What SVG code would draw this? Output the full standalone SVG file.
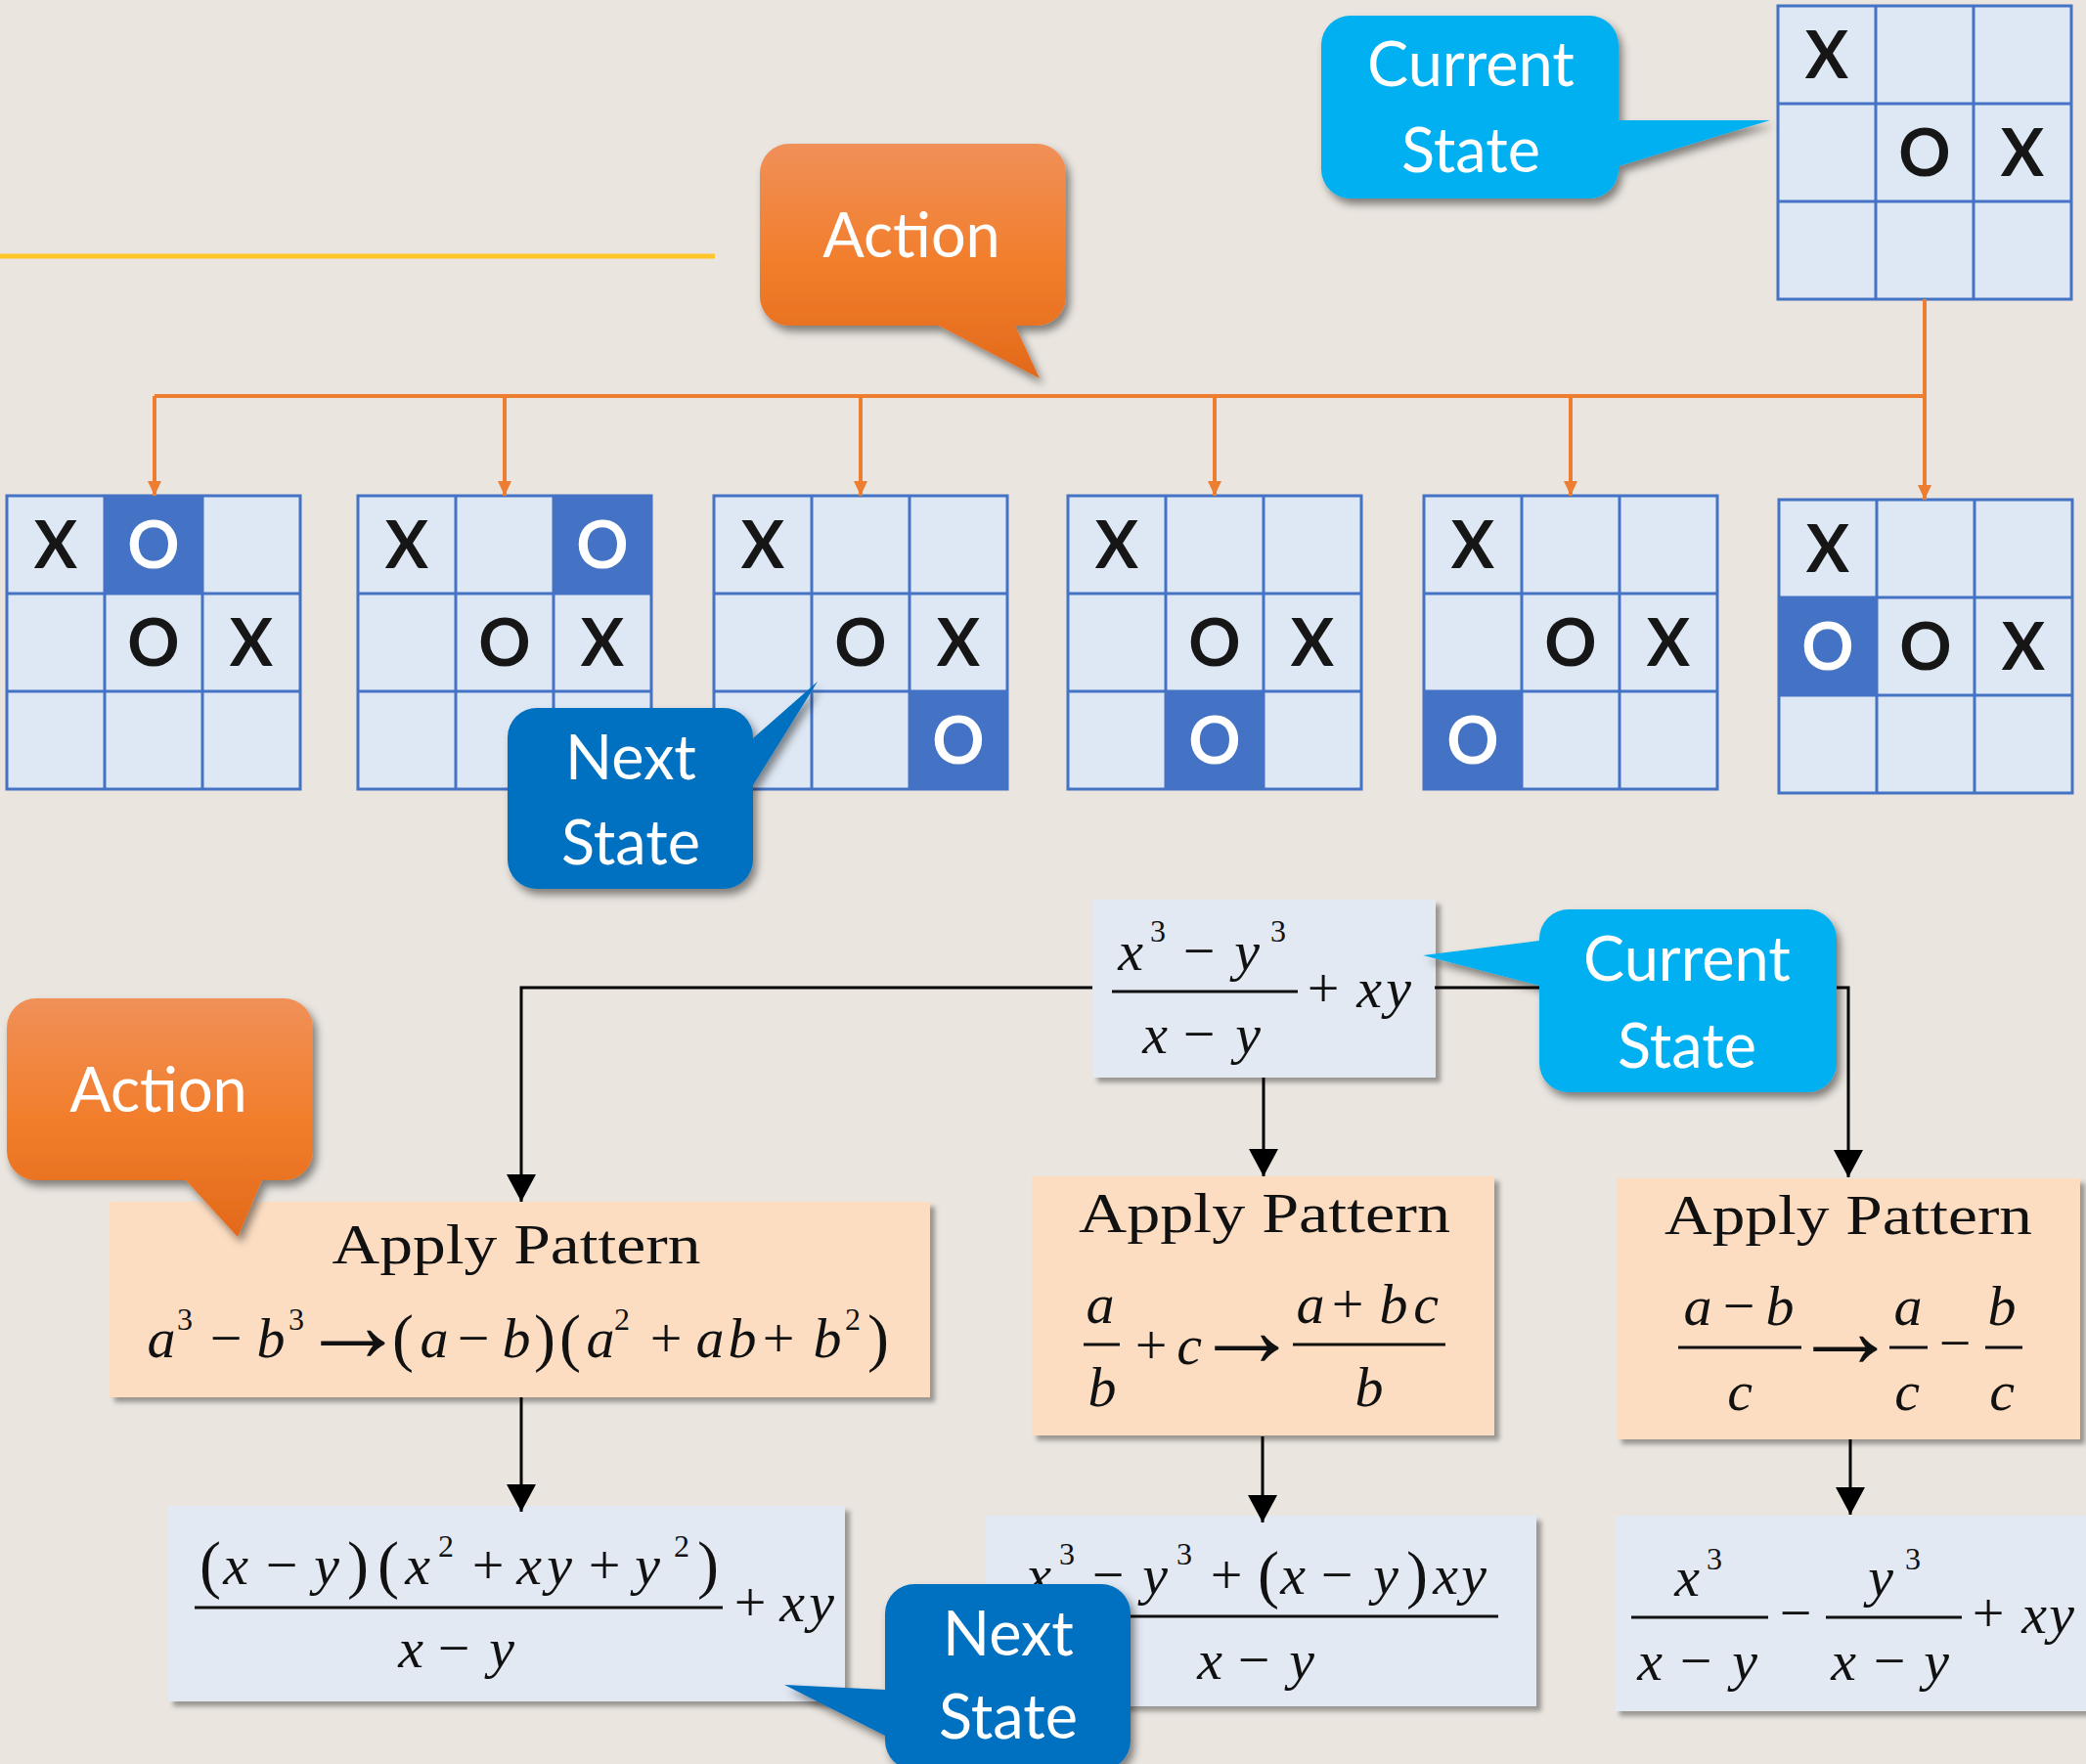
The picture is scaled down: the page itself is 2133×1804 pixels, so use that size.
<svg xmlns="http://www.w3.org/2000/svg" xmlns:xlink="http://www.w3.org/1999/xlink" width="2133" height="1804" viewBox="0 0 2133 1804">
<style>
  .bf { fill: #DEE8F4; }
  .hl { fill: #4472C4; }
  .xo { font-family: Lato, "Open Sans", sans-serif; font-weight: 700; font-size: 66px; fill: #161616; text-anchor: middle; }
  .xo .w, .w { fill: #FFFFFF; }
  .cl { font-family: Lato, "Open Sans", sans-serif; font-size: 63px; fill: #FFFFFF; text-anchor: middle; }
  .hd { font-family: "Liberation Serif", serif; font-size: 58px; fill: #111111; text-anchor: middle; }
  .mi { font-family: "Liberation Serif", serif; font-style: italic; font-size: 58px; fill: #111111; text-anchor: middle; }
  .mo { font-family: "Liberation Serif", serif; font-size: 58px; fill: #111111; text-anchor: middle; }
  .ma { font-family: "Liberation Serif", serif; font-size: 110px; fill: #111111; text-anchor: middle; }
  .mp { font-family: "Liberation Serif", serif; font-size: 66px; fill: #111111; text-anchor: middle; }
  .sp { font-family: "Liberation Serif", serif; font-size: 32px; fill: #111111; text-anchor: middle; }
  .bar { stroke: #111111; stroke-width: 3; }
  .state { fill: #E2E9F3; }
  .pat { fill: #FCDDC2; }
  .conn { fill: none; stroke: #000000; stroke-width: 3; }
  .oconn { fill: none; stroke: #ED7D31; stroke-width: 4; }
</style>
<defs>
  <path id="grid" d="M0 0H300V300H0Z M100 0V300 M200 0V300 M0 100H300 M0 200H300" fill="none" stroke="#4472C4" stroke-width="3"/>
  <marker id="ah" viewBox="0 0 28 30" refX="28" refY="15" markerWidth="28" markerHeight="30" markerUnits="userSpaceOnUse" orient="auto">
    <path d="M0 0L28 15L0 30Z" fill="#000000"/>
  </marker>
  <marker id="oah" viewBox="0 0 15 14" refX="15" refY="7" markerWidth="15" markerHeight="14" markerUnits="userSpaceOnUse" orient="auto">
    <path d="M0 0L15 7L0 14Z" fill="#ED7D31"/>
  </marker>
  <linearGradient id="og" x1="0" y1="0" x2="0" y2="1">
    <stop offset="0" stop-color="#F09058"/>
    <stop offset="0.5" stop-color="#F27E2C"/>
    <stop offset="1" stop-color="#E2691A"/>
  </linearGradient>
  <filter id="csh" x="-10%" y="-10%" width="130%" height="140%">
    <feDropShadow dx="4" dy="6" stdDeviation="4" flood-color="#000000" flood-opacity="0.45"/>
  </filter>
  <filter id="bsh" x="-5%" y="-5%" width="115%" height="120%">
    <feDropShadow dx="5" dy="5" stdDeviation="2.5" flood-color="#000000" flood-opacity="0.35"/>
  </filter>
</defs>

<rect width="2133" height="1804" fill="#EAE5DF"/>

<!-- yellow rule on the left -->
<line x1="0" y1="262" x2="731" y2="262" stroke="#FFC62A" stroke-width="5"/>

<!-- ===== tic-tac-toe tree ===== -->
<g id="board-current" transform="translate(1818,6)">
  <rect class="bf" width="300" height="300"/>
  <use xlink:href="#grid"/>
  <text class="xo"><tspan x="50" y="74">X</tspan><tspan x="150" y="174">O</tspan><tspan x="250" y="174">X</tspan></text>
</g>

<g id="board-1" transform="translate(7,507)">
  <rect class="bf" width="300" height="300"/>
  <rect class="hl" x="100" y="0" width="100" height="100"/>
  <use xlink:href="#grid"/>
  <text class="xo"><tspan x="50" y="74">X</tspan><tspan x="150" y="174">O</tspan><tspan x="250" y="174">X</tspan></text>
  <text class="xo w" x="150" y="74">O</text>
</g>

<g id="board-2" transform="translate(366,507)">
  <rect class="bf" width="300" height="300"/>
  <rect class="hl" x="200" y="0" width="100" height="100"/>
  <use xlink:href="#grid"/>
  <text class="xo"><tspan x="50" y="74">X</tspan><tspan x="150" y="174">O</tspan><tspan x="250" y="174">X</tspan></text>
  <text class="xo w" x="250" y="74">O</text>
</g>

<g id="board-3" transform="translate(730,507)">
  <rect class="bf" width="300" height="300"/>
  <rect class="hl" x="200" y="200" width="100" height="100"/>
  <use xlink:href="#grid"/>
  <text class="xo"><tspan x="50" y="74">X</tspan><tspan x="150" y="174">O</tspan><tspan x="250" y="174">X</tspan></text>
  <text class="xo w" x="250" y="274">O</text>
</g>

<g id="board-4" transform="translate(1092,507)">
  <rect class="bf" width="300" height="300"/>
  <rect class="hl" x="100" y="200" width="100" height="100"/>
  <use xlink:href="#grid"/>
  <text class="xo"><tspan x="50" y="74">X</tspan><tspan x="150" y="174">O</tspan><tspan x="250" y="174">X</tspan></text>
  <text class="xo w" x="150" y="274">O</text>
</g>

<g id="board-5" transform="translate(1456,507)">
  <rect class="bf" width="300" height="300"/>
  <rect class="hl" x="0" y="200" width="100" height="100"/>
  <use xlink:href="#grid"/>
  <text class="xo"><tspan x="50" y="74">X</tspan><tspan x="150" y="174">O</tspan><tspan x="250" y="174">X</tspan></text>
  <text class="xo w" x="50" y="274">O</text>
</g>

<g id="board-6" transform="translate(1819,511)">
  <rect class="bf" width="300" height="300"/>
  <rect class="hl" x="0" y="100" width="100" height="100"/>
  <use xlink:href="#grid"/>
  <text class="xo"><tspan x="50" y="74">X</tspan><tspan x="150" y="174">O</tspan><tspan x="250" y="174">X</tspan></text>
  <text class="xo w" x="50" y="174">O</text>
</g>

<g id="tree-connectors">
  <path class="oconn" d="M1968 306V405 M158 405H1968"/>
  <path class="oconn" marker-end="url(#oah)" d="M158 405V507"/>
  <path class="oconn" marker-end="url(#oah)" d="M516 405V507"/>
  <path class="oconn" marker-end="url(#oah)" d="M880 405V507"/>
  <path class="oconn" marker-end="url(#oah)" d="M1242 405V507"/>
  <path class="oconn" marker-end="url(#oah)" d="M1606 405V507"/>
  <path class="oconn" marker-end="url(#oah)" d="M1968 405V511"/>
</g>

<g id="callout-current-top" filter="url(#csh)">
  <path fill="#00B0F0" d="M1381 16H1625A30 30 0 0 1 1655 46V123L1810 123L1655 170V173A30 30 0 0 1 1625 203H1381A30 30 0 0 1 1351 173V46A30 30 0 0 1 1381 16Z"/>
  <text class="cl"><tspan x="1504" y="88">Current</tspan><tspan x="1504" y="176">State</tspan></text>
</g>

<g id="callout-action-top" filter="url(#csh)">
  <path fill="url(#og)" d="M807 147H1060A30 30 0 0 1 1090 177V303A30 30 0 0 1 1060 333H1038L1063 387L960 333H807A30 30 0 0 1 777 303V177A30 30 0 0 1 807 147Z"/>
  <text class="cl" x="932" y="263">Action</text>
</g>

<g id="callout-next-top" filter="url(#csh)">
  <path fill="#0070C0" d="M549 724H740A30 30 0 0 1 770 754V755L836 697L770 803V879A30 30 0 0 1 740 909H549A30 30 0 0 1 519 879V754A30 30 0 0 1 549 724Z"/>
  <text class="cl"><tspan x="645" y="797">Next</tspan><tspan x="645" y="884">State</tspan></text>
</g>

<!-- ===== algebra tree ===== -->
<g id="expr-current">
  <rect class="state" x="1117" y="920" width="351" height="182" filter="url(#bsh)"/>
  <text class="mi" y="992"><tspan x="1156">x</tspan><tspan x="1275">y</tspan></text>
  <text class="sp" y="963"><tspan x="1184">3</tspan><tspan x="1307">3</tspan></text>
  <text class="mo" x="1226" y="992">−</text>
  <line class="bar" x1="1137" y1="1014" x2="1327" y2="1014"/>
  <text class="mi" y="1077"><tspan x="1181">x</tspan><tspan x="1276">y</tspan></text>
  <text class="mo" x="1226" y="1077">−</text>
  <text class="mo" x="1353" y="1030">+</text>
  <text class="mi" y="1030"><tspan x="1400">x</tspan><tspan x="1430">y</tspan></text>
</g>

<g id="pattern-cubes">
  <rect class="pat" x="112" y="1229" width="839" height="200" filter="url(#bsh)"/>
  <text class="hd" x="528" y="1292" textLength="377" lengthAdjust="spacingAndGlyphs">Apply Pattern</text>
  <text class="mi" y="1388"><tspan x="165">a</tspan><tspan x="277">b</tspan><tspan x="444">a</tspan><tspan x="528">b</tspan><tspan x="614">a</tspan><tspan x="726">a</tspan><tspan x="759">b</tspan><tspan x="846">b</tspan></text>
  <text class="sp" y="1360"><tspan x="189">3</tspan><tspan x="303">3</tspan><tspan x="636">2</tspan><tspan x="872">2</tspan></text>
  <text class="mo" y="1388"><tspan x="231">−</tspan><tspan x="484">−</tspan><tspan x="681">+</tspan><tspan x="796">+</tspan></text>
  <text class="ma" x="361" y="1392">→</text>
  <text class="mp" y="1390"><tspan x="412">(</tspan><tspan x="557">)</tspan><tspan x="583">(</tspan><tspan x="898">)</tspan></text>
</g>

<g id="pattern-fraction-sum">
  <rect class="pat" x="1055" y="1203" width="473" height="265" filter="url(#bsh)"/>
  <text class="hd" x="1293" y="1260" textLength="380" lengthAdjust="spacingAndGlyphs">Apply Pattern</text>
  <text class="mi" y="1353"><tspan x="1125">a</tspan><tspan x="1340">a</tspan><tspan x="1425">b</tspan><tspan x="1458">c</tspan></text>
  <text class="mo" x="1378" y="1353">+</text>
  <line class="bar" x1="1108" y1="1375" x2="1145" y2="1375"/>
  <line class="bar" x1="1322" y1="1375" x2="1478" y2="1375"/>
  <text class="mi" y="1438"><tspan x="1127">b</tspan><tspan x="1400">b</tspan></text>
  <text class="mo" x="1177" y="1395">+</text>
  <text class="ma" x="1275" y="1397">→</text>
  <text class="mi" x="1216" y="1395">c</text>
</g>

<g id="pattern-fraction-split">
  <rect class="pat" x="1653" y="1205" width="474" height="267" filter="url(#bsh)"/>
  <text class="hd" x="1890" y="1262" textLength="376" lengthAdjust="spacingAndGlyphs">Apply Pattern</text>
  <text class="mi" y="1355"><tspan x="1736">a</tspan><tspan x="1820">b</tspan><tspan x="1951">a</tspan><tspan x="2047">b</tspan></text>
  <text class="mo" x="1778" y="1355">−</text>
  <line class="bar" x1="1716" y1="1378" x2="1842" y2="1378"/>
  <line class="bar" x1="1932" y1="1378" x2="1971" y2="1378"/>
  <line class="bar" x1="2030" y1="1378" x2="2068" y2="1378"/>
  <text class="mi" y="1442"><tspan x="1779">c</tspan><tspan x="1950">c</tspan><tspan x="2047">c</tspan></text>
  <text class="ma" x="1887" y="1398">→</text>
  <text class="mo" x="1999" y="1393">−</text>
</g>

<g id="expr-factored">
  <rect class="state" x="172" y="1540" width="692" height="200" filter="url(#bsh)"/>
  <text class="mp" y="1622"><tspan x="215">(</tspan><tspan x="366">)</tspan><tspan x="397">(</tspan><tspan x="724">)</tspan></text>
  <text class="mi" y="1620"><tspan x="241">x</tspan><tspan x="334">y</tspan><tspan x="427">x</tspan><tspan x="541">x</tspan><tspan x="572">y</tspan><tspan x="662">y</tspan></text>
  <text class="mo" y="1620"><tspan x="288">−</tspan><tspan x="499">+</tspan><tspan x="618">+</tspan></text>
  <text class="sp" y="1592"><tspan x="456">2</tspan><tspan x="697">2</tspan></text>
  <line class="bar" x1="199" y1="1644" x2="739" y2="1644"/>
  <text class="mi" y="1705"><tspan x="420">x</tspan><tspan x="513">y</tspan></text>
  <text class="mo" x="464" y="1705">−</text>
  <text class="mo" x="767" y="1658">+</text>
  <text class="mi" y="1658"><tspan x="810">x</tspan><tspan x="840">y</tspan></text>
</g>

<g id="expr-combined">
  <rect class="state" x="1008" y="1550" width="563" height="195" filter="url(#bsh)"/>
  <text class="mi" y="1630"><tspan x="1062">x</tspan><tspan x="1181">y</tspan><tspan x="1322">x</tspan><tspan x="1417">y</tspan><tspan x="1478">x</tspan><tspan x="1507">y</tspan></text>
  <text class="sp" y="1600"><tspan x="1091">3</tspan><tspan x="1211">3</tspan></text>
  <text class="mo" y="1630"><tspan x="1133">−</tspan><tspan x="1254">+</tspan><tspan x="1367">−</tspan></text>
  <text class="mp" y="1632"><tspan x="1297">(</tspan><tspan x="1449">)</tspan></text>
  <line class="bar" x1="1050" y1="1653" x2="1532" y2="1653"/>
  <text class="mi" y="1717"><tspan x="1237">x</tspan><tspan x="1331">y</tspan></text>
  <text class="mo" x="1282" y="1717">−</text>
</g>

<g id="expr-split">
  <rect class="state" x="1651" y="1550" width="490" height="200" filter="url(#bsh)"/>
  <text class="mi" y="1632"><tspan x="1725">x</tspan><tspan x="1923">y</tspan></text>
  <text class="sp" y="1605"><tspan x="1753">3</tspan><tspan x="1956">3</tspan></text>
  <line class="bar" x1="1668" y1="1654" x2="1808" y2="1654"/>
  <line class="bar" x1="1867" y1="1654" x2="2006" y2="1654"/>
  <text class="mi" y="1718"><tspan x="1687">x</tspan><tspan x="1784">y</tspan><tspan x="1885">x</tspan><tspan x="1980">y</tspan></text>
  <text class="mo" y="1718"><tspan x="1734">−</tspan><tspan x="1932">−</tspan></text>
  <text class="mo" y="1669"><tspan x="1836">−</tspan><tspan x="2033">+</tspan></text>
  <text class="mi" y="1670"><tspan x="2080">x</tspan><tspan x="2108">y</tspan></text>
</g>

<g id="algebra-connectors">
  <path class="conn" marker-end="url(#ah)" d="M1117 1010H533V1229"/>
  <path class="conn" marker-end="url(#ah)" d="M1467 1010H1890V1204"/>
  <path class="conn" marker-end="url(#ah)" d="M1292 1102V1203"/>
  <path class="conn" marker-end="url(#ah)" d="M533 1429V1546"/>
  <path class="conn" marker-end="url(#ah)" d="M1291 1469V1557"/>
  <path class="conn" marker-end="url(#ah)" d="M1892 1472V1549"/>
</g>

<g id="callout-action-bottom" filter="url(#csh)">
  <path fill="url(#og)" d="M37 1021H290A30 30 0 0 1 320 1051V1177A30 30 0 0 1 290 1207H268L243 1265L190 1207H37A30 30 0 0 1 7 1177V1051A30 30 0 0 1 37 1021Z"/>
  <text class="cl" x="162" y="1137">Action</text>
</g>

<g id="callout-current-bottom" filter="url(#csh)">
  <path fill="#00B0F0" d="M1604 930H1848A30 30 0 0 1 1878 960V1087A30 30 0 0 1 1848 1117H1604A30 30 0 0 1 1574 1087V1008L1455 977L1574 962V960A30 30 0 0 1 1604 930Z"/>
  <text class="cl"><tspan x="1725" y="1003">Current</tspan><tspan x="1725" y="1092">State</tspan></text>
</g>

<g id="callout-next-bottom" filter="url(#csh)">
  <path fill="#0070C0" d="M935 1620H1126A30 30 0 0 1 1156 1650V1780A30 30 0 0 1 1126 1810H935A30 30 0 0 1 905 1780V1775L802 1723L905 1728V1650A30 30 0 0 1 935 1620Z"/>
  <text class="cl"><tspan x="1031" y="1693">Next</tspan><tspan x="1031" y="1778">State</tspan></text>
</g>
</svg>
